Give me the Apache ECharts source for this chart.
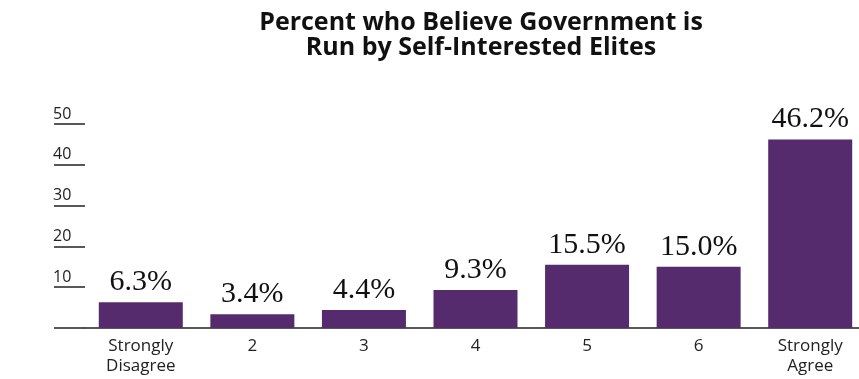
<!DOCTYPE html>
<html>
<head>
<meta charset="utf-8">
<script src="https://cdn.jsdelivr.net/npm/echarts@6/dist/echarts.min.js"></script>
<style>
html,body{margin:0;padding:0;background:#fff;}
#top{width:859px;height:379px;}
</style>
</head>
<body>
<div id="top"></div>
<script>
var categories = ['Strongly\nDisagree', '2', '3', '4', '5', '6', 'Strongly\nAgree'];
var percentValues = [6.3, 3.4, 4.4, 9.3, 15.5, 15.0, 46.2];
var yTicks = [0, 10, 20, 30, 40, 50];

var myChart;
function drawChart() {
	myChart = echarts.init(document.getElementById('top'));
	var option = {
		title:{
			text:'Percent who Believe Government is\nRun by Self-Interested Elites',
			left:476,
			textAlign:'center',
			top:5,
			textStyle:{
				fontFamily:'Open Sans',
				fontWeight:'bold',
				fontSize:25,
				lineHeight:25,
				color:'#111'
			}
		},
		animation:false,
		grid:{
			left:85,
			top:124,
			width:781,
			height:204,
			containLabel:false,
			outerBoundsMode:'none'
		},
		xAxis:[{
			type:'category',
			data:categories,
			axisLine:{lineStyle:{color:'#222', width:1.5}},
			axisTick:{show:false},
			axisLabel:{
				fontFamily:'Open Sans',
				fontSize:17,
				lineHeight:20,
				color:'#222',
				margin:8
			}
		}],
		yAxis:[{
			type:'value',
			min:yTicks[0],
			max:yTicks[yTicks.length-1],
			interval:10,
			splitLine:{show:false},
			axisLine:{show:false},
			axisTick:{show:true, length:31, lineStyle:{color:'#222', width:1.5}},
			axisLabel:{
				fontFamily:'Open Sans',
				fontSize:16,
				color:'#222',
				align:'left',
				verticalAlign:'bottom',
				margin:32,
				padding:[0,0,2,0],
				formatter:function(v){ return v === 0 ? '' : String(v); }
			}
		}],
		series:[{
			type:'bar',
			data:percentValues,
			barWidth:84,
			itemStyle:{color:'#552b6d'},
			label:{
				show:true,
				position:'top',
				distance:5,
				fontFamily:'Liberation Serif',
				fontSize:30,
				color:'#111',
				formatter:function(p){ return p.value.toFixed(1) + '%'; }
			}
		}]
	};
	myChart.setOption(option, true);
}
drawChart();
</script>
</body>
</html>
